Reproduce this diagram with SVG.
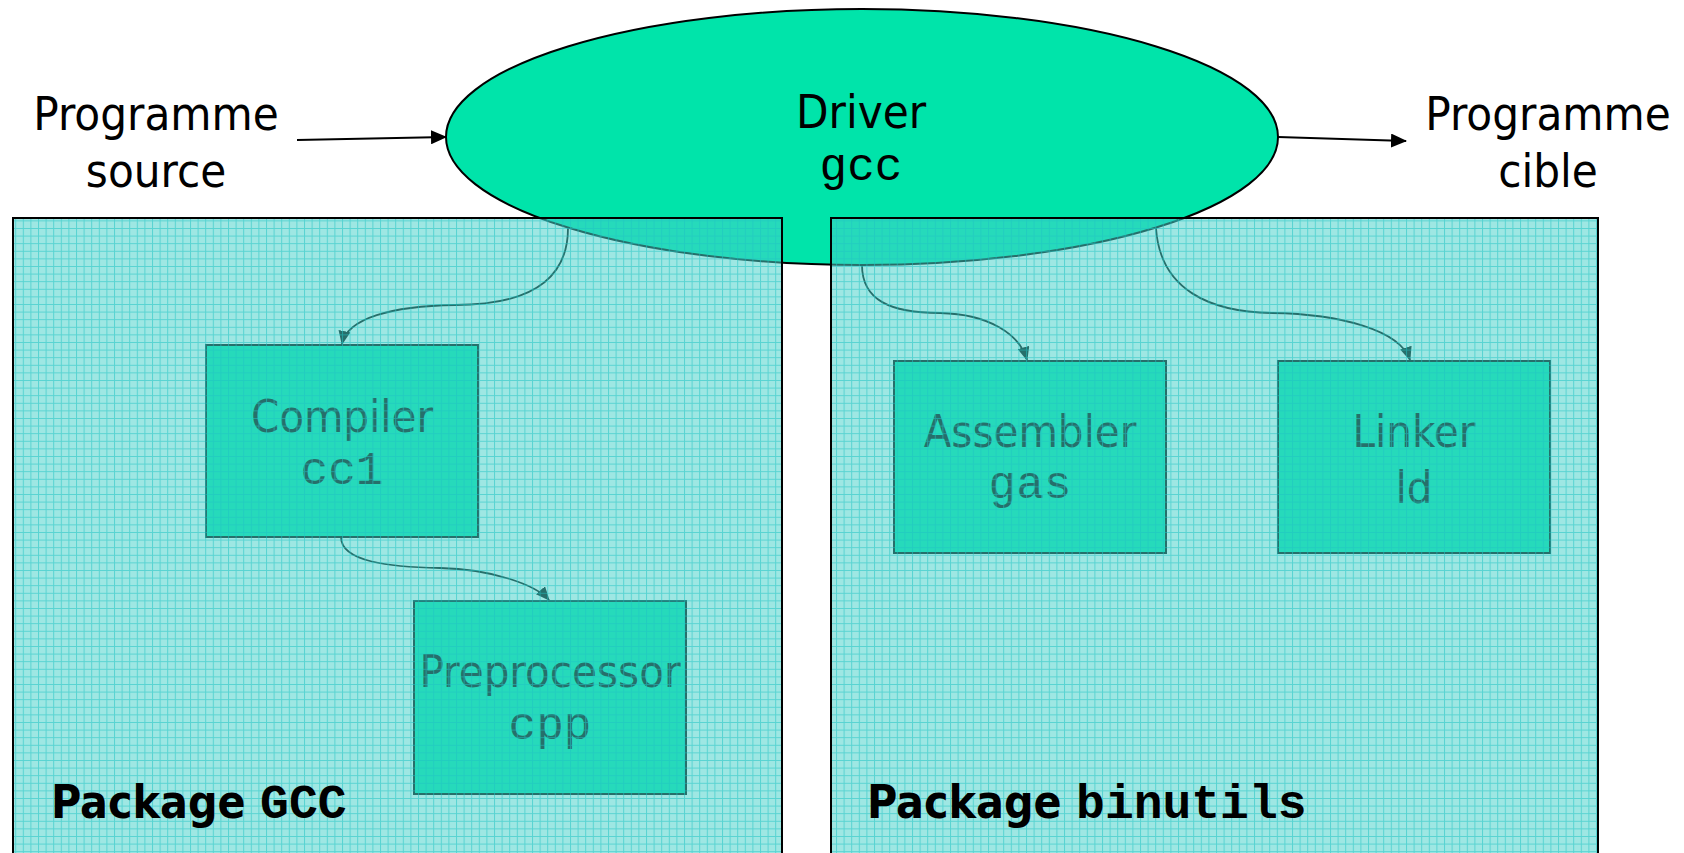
<svg xmlns="http://www.w3.org/2000/svg" width="1684" height="853" viewBox="0 0 1684 853">
<style>
.sans{font-family:"DejaVu Sans Condensed","DejaVu Sans",sans-serif;font-stretch:condensed;font-size:45px;fill:#000;text-anchor:middle}
.big{font-size:47px}
.mono{font-family:"Liberation Mono","Courier New",monospace;font-size:46px;fill:#000;text-anchor:middle}
.box{fill:#00e4aa;stroke:#000;stroke-width:2}
.conn{fill:none;stroke:#000;stroke-width:1.8}
.ext{fill:none;stroke:#000;stroke-width:2}
.veil{fill:#47d2ca;fill-opacity:0.53}
.pkgb{fill:none;stroke:#000;stroke-width:2}
.lbl{font-family:"DejaVu Sans Condensed","DejaVu Sans",sans-serif;font-stretch:condensed;font-weight:bold;font-size:46px;fill:#000}
.lblm{font-family:"Liberation Mono","Courier New",monospace;font-weight:bold;font-size:48px;fill:#000}
</style>
<defs>
<marker id="ah" markerUnits="userSpaceOnUse" markerWidth="16" markerHeight="14" refX="15" refY="7" orient="auto">
<path d="M0,0 L16,7 L0,14 Z" fill="#000"/>
</marker>
<marker id="ahs" markerUnits="userSpaceOnUse" markerWidth="14" markerHeight="12" refX="13" refY="6" orient="auto">
<path d="M0,0 L14,6 L0,12 Z" fill="#000"/>
</marker>
<pattern id="grid" patternUnits="userSpaceOnUse" width="7.6" height="7.6">
<path d="M0,0.5 H7.6 M0.5,0 V7.6" stroke="#1ec2c2" stroke-width="1" stroke-opacity="0.55" fill="none"/>
</pattern>
</defs>
<rect width="1684" height="853" fill="#fff"/>

<g id="driver">
<ellipse cx="862" cy="137" rx="416" ry="128" fill="#00e4aa" stroke="#000" stroke-width="2"/>
<text class="sans big" x="861" y="128">Driver</text>
<text class="mono" x="861" y="180">gcc</text>
</g>

<g id="compiler">
<rect class="box" x="206" y="345" width="272" height="192"/>
<text class="sans" x="342" y="432">Compiler</text>
<text class="mono" x="342" y="484" font-size="43">cc1</text>
</g>

<g id="preprocessor">
<rect class="box" x="414" y="601" width="272" height="193"/>
<text class="sans" x="550" y="687">Preprocessor</text>
<text class="mono" x="550" y="739" font-size="43">cpp</text>
</g>

<g id="assembler">
<rect class="box" x="894" y="361" width="272" height="192"/>
<text class="sans" x="1030" y="447">Assembler</text>
<text class="mono" x="1030" y="498" font-size="43">gas</text>
</g>

<g id="linker">
<rect class="box" x="1278" y="361" width="272" height="192"/>
<text class="sans" x="1414" y="447">Linker</text>
<text class="sans" x="1414" y="503">ld</text>
</g>

<g id="source">
<text class="sans big" x="156" y="130">Programme</text>
<text class="sans big" x="156" y="187">source</text>
</g>

<g id="target">
<text class="sans big" x="1548" y="130">Programme</text>
<text class="sans big" x="1548" y="187">cible</text>
</g>

<g id="connectors">
<path class="ext" d="M297,140 L446,137" marker-end="url(#ah)"/>
<path class="ext" d="M1278,137 L1406,141" marker-end="url(#ah)"/>
<path class="conn" d="M568,228 C568,290 512,305 455,305 C392,306 347,318 342,344" marker-end="url(#ahs)"/>
<path class="conn" d="M341,537 C341,562 390,567 440,568 C492,569 536,585 549,600" marker-end="url(#ahs)"/>
<path class="conn" d="M862,265 C862,300 890,313 940,313 C990,314 1020,335 1027,360" marker-end="url(#ahs)"/>
<path class="conn" d="M1156,228 C1160,290 1210,312 1272,313 C1340,314 1400,330 1410,360" marker-end="url(#ahs)"/>
</g>

<g id="package-gcc">
<rect class="veil" x="13" y="218" width="769" height="660"/>
<rect x="13" y="218" width="769" height="660" fill="url(#grid)"/>
<rect class="pkgb" x="13" y="218" width="769" height="660"/>
<text x="51" y="818"><tspan class="lbl">Package </tspan><tspan class="lblm">GCC</tspan></text>
</g>

<g id="package-binutils">
<rect class="veil" x="831" y="218" width="767" height="660"/>
<rect x="831" y="218" width="767" height="660" fill="url(#grid)"/>
<rect class="pkgb" x="831" y="218" width="767" height="660"/>
<text x="867" y="818"><tspan class="lbl">Package </tspan><tspan class="lblm">binutils</tspan></text>
</g>
</svg>
